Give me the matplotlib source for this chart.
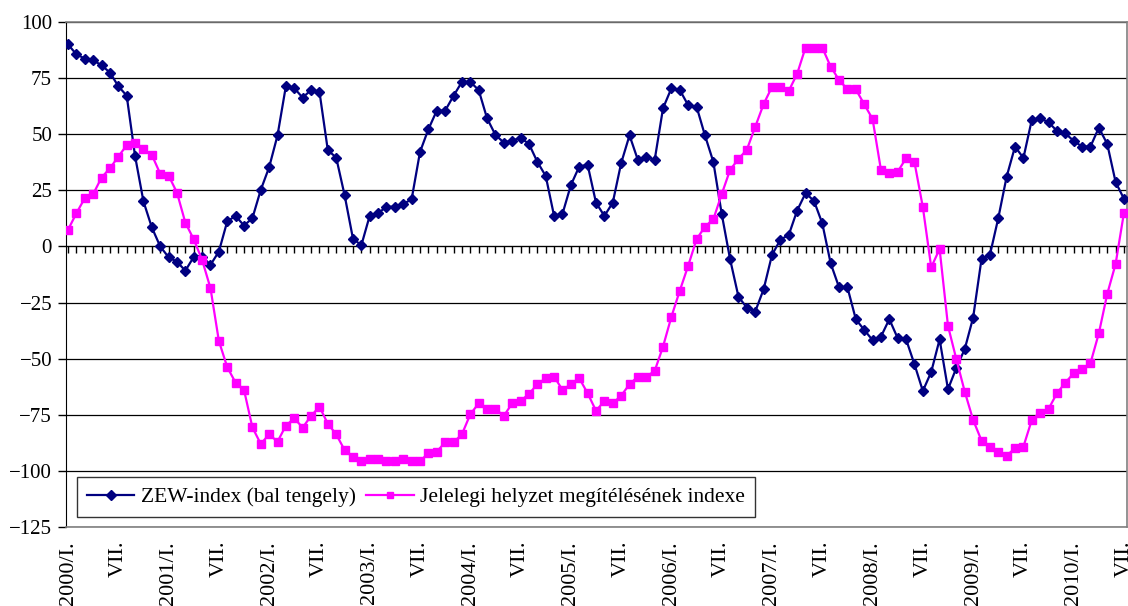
import numpy as np
import matplotlib
matplotlib.use('Agg')
import matplotlib.pyplot as plt

# havi adatok 2000/I. - 2010/VII.
zew = [90, 85.6, 83.7, 83, 80.7, 77.5, 71.4, 67.2, 40.3, 20.1, 8.5, 0,
       -4.8, -6.8, -10.8, -4.7, -4.5, -8.2, -2.3, 11.2, 13.6, 9.3, 12.6, 25.2,
       35.3, 49.5, 71.5, 70.5, 66.3, 69.7, 69, 42.9, 39.6, 22.9, 3.5, 0.5,
       13.7, 14.8, 17.7, 17.7, 18.9, 21.0, 42.1, 52.2, 60.5, 60.5, 67.1, 73.3,
       73.3, 69.7, 57.1, 49.7, 46.3, 47.2, 48.4, 45.7, 37.7, 31.4, 13.6, 14.5,
       27.3, 35.6, 36.4, 19.5, 13.6, 19.5, 37.1, 49.5, 38.5, 40, 38.5, 61.6,
       70.5, 69.7, 62.9, 62.3, 49.5, 37.7, 14.5, -5.7, -22.4, -27.3, -29, -19.1,
       -3.8, 3.0, 5.1, 16, 23.7, 20.4, 10.3, -7.5, -18.2, -18.2, -32.4, -37.2,
       -41.7, -40.2, -32.4, -40.9, -41.4, -52.5, -64.4, -55.9, -41.4, -63.6, -54.1, -45.7,
       -31.7, -5.6, -3.8, 12.6, 31.1, 44.5, 39.4, 56.4, 57.1, 55.3, 51.5, 50.4,
       47, 44.5, 44.5, 52.9, 45.7, 28.7, 21.2]

jelenlegi = [7.4, 14.8, 21.5, 23.3, 30.7, 34.8, 40, 45.1, 46, 43.4, 40.8, 32.4,
             31.6, 24, 10.6, 3.2, -6, -18.6, -42.1, -53.8, -60.7, -63.9, -80.6, -88,
             -83.7, -87, -79.8, -76.6, -80.7, -75.5, -71.4, -79, -83.7, -90.7, -93.9, -95.6,
             -94.8, -94.8, -95.6, -95.6, -94.8, -95.6, -95.6, -92.2, -91.4, -87.3, -87.3, -83.7,
             -74.8, -69.9, -72.4, -72.4, -75.5, -69.9, -68.9, -65.7, -61.4, -58.7, -58, -63.9,
             -61.4, -58.7, -65.4, -73.2, -68.9, -69.9, -66.5, -61.4, -58, -58, -55.5, -44.6,
             -31.3, -19.7, -8.6, 3.2, 8.8, 12.1, 23.3, 34.1, 39, 43.1, 53.3, 63.4,
             71.1, 71.1, 69.3, 76.9, 88.6, 88.6, 88.6, 80.1, 74.2, 70, 70, 63.4,
             56.8, 34.1, 32.6, 33.3, 39.3, 37.5, 17.5, -9.3, -1.1, -35.4, -50.3, -64.7,
             -77.3, -86.5, -89.2, -91.4, -93.2, -89.9, -89.2, -77.3, -74, -72.4, -65.4, -60.7,
             -56.5, -54.7, -52, -38.7, -21.2, -7.8, 15.1]

years = list(range(2000, 2011))
tick_labels = []
for y in years:
    tick_labels += [f'{y}/I.', 'VII.']
tick_labels = tick_labels[:22]

plt.rcParams['font.family'] = ['Liberation Serif', 'DejaVu Serif']

x = np.arange(len(zew))

fig = plt.figure(figsize=(11.28, 6.06), dpi=100)
ax = fig.add_axes([66 / 1128, 1 - 527 / 606, (1127 - 66) / 1128, (527 - 22) / 606])

ax.set_ylim(-125, 100)
ax.set_xlim(-0.24, 126.36)
ax.set_yticks(np.arange(-125, 101, 25))
ax.yaxis.grid(True, color='black', linewidth=0.9)
ax.set_axisbelow(True)

ax.plot(x, zew, color='#000080', linewidth=1.6, marker='D', markersize=5.5,
        label='ZEW-index (bal tengely)', zorder=3)
ax.plot(x, jelenlegi, color='#FF00FF', linewidth=1.6, marker='s', markersize=5.5,
        label='Jelelegi helyzet megítélésének indexe', zorder=3)

# x tengely a 0 szinten, havi osztásokkal
zero_pos = (0 - ax.get_ylim()[0]) / (ax.get_ylim()[1] - ax.get_ylim()[0])
sec = ax.secondary_xaxis(zero_pos)
sec.set_xticks(x)
sec.set_xticklabels([])
sec.tick_params(axis='x', direction='out', length=5, width=1, color='black', bottom=True, top=False)
sec.spines['bottom'].set_color('black')
sec.spines['bottom'].set_linewidth(1.0)

ax.set_xticks(x[::6])
ax.set_xticklabels(tick_labels, rotation=90, fontsize=16, va='top', ha='center')
ax.tick_params(axis='x', length=0, pad=10)
ax.tick_params(axis='y', direction='out', length=6, width=1, labelsize=15, pad=4)

for s in ['top', 'right', 'bottom']:
    ax.spines[s].set_color('#808080')
    ax.spines[s].set_linewidth(1.2)
ax.spines['left'].set_color('black')

leg = ax.legend(loc='lower left', ncol=2, fontsize=15.5, frameon=True, fancybox=False,
                edgecolor='black', bbox_to_anchor=(0.0105, 0.02), borderaxespad=0,
                handlelength=2.2, columnspacing=0.5, handletextpad=0.3,
                borderpad=0.45, markerscale=0.85)
leg.get_frame().set_linewidth(1.0)

fig.savefig('out.png', dpi=100)
